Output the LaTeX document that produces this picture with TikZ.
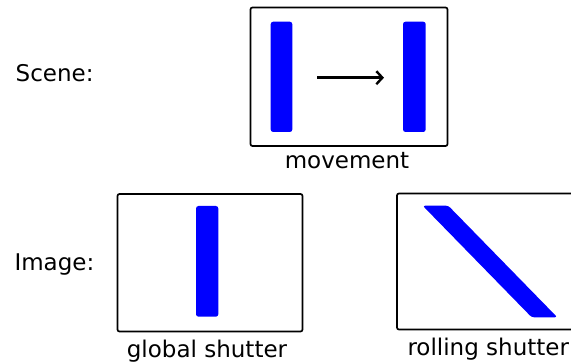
\documentclass[tikz,border=0pt]{standalone}
\usepackage{fontspec}
\setmainfont{DejaVu Sans}
\usetikzlibrary{arrows.meta}
\begin{document}
\begin{tikzpicture}[x=1pt,y=-1pt,
  frame/.style={draw=black,line width=1.7pt,rounded corners=2pt},
  bar/.style={fill=blue,draw=none,rounded corners=2.5pt},
  caption/.style={font=\fontsize{23}{27}\selectfont,inner sep=0pt,anchor=base}]
\useasboundingbox (0,0) rectangle (571,363);
\clip (0,0) rectangle (571,363);

% row labels
\node[caption,anchor=base west] (scenelbl) at (15.5,81.7) {Scene:};
\node[caption,anchor=base west] (imagelbl) at (14.3,270.7) {Image:};

% scene: bar moving to the right
\draw[frame] (250.5,7.5) rectangle (447.5,146);
\fill[bar] (270.7,21.7) rectangle (292.3,132);
\fill[bar] (403,21.7) rectangle (425.7,132);
\coordinate (mvA) at (317,77.7);
\coordinate (mvB) at (384,77.7);
\draw[line width=2.4pt,-{Straight Barb[length=6pt,width=13pt,line width=2.4pt]}] (mvA) -- (mvB);
\node[caption] (mvlbl) at (347,169) {movement};

% global shutter image
\draw[frame] (117.5,194) rectangle (302.5,331.5);
\fill[bar] (196,206) rectangle (218.3,316.7);
\node[caption] (gslbl) at (207,357.3) {global shutter};

% rolling shutter image
\draw[frame] (397,193.5) rectangle (575,329.5);
\fill[bar] (422.7,205.7) -- (448.3,205.7) -- (557.3,317.3) -- (531.7,317.3) -- cycle;
\node[caption,anchor=base west] (rslbl) at (407.3,356) {rolling shutter};
\end{tikzpicture}
\end{document}
